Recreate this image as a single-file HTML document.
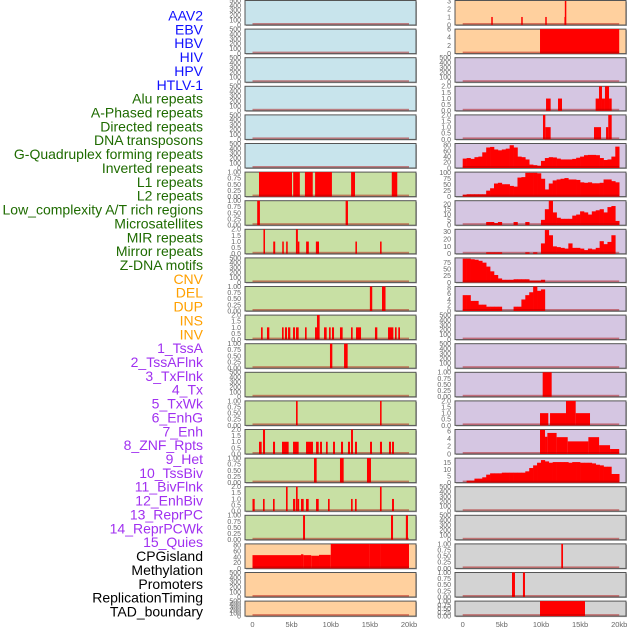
<!DOCTYPE html>
<html><head><meta charset="utf-8"><style>
html,body{margin:0;padding:0;background:#fff;width:630px;height:630px;overflow:hidden}
svg{display:block}
</style></head><body>
<svg id="chart" width="630" height="630" xmlns="http://www.w3.org/2000/svg" font-family="Liberation Sans, sans-serif"></svg>
<script>
// ---------- data ----------
const trackLabels = ["AAV2","EBV","HBV","HIV","HPV","HTLV-1","Alu repeats","A-Phased repeats","Directed repeats","DNA transposons","G-Quadruplex forming repeats","Inverted repeats","L1 repeats","L2 repeats","Low_complexity A/T rich regions","Microsatellites","MIR repeats","Mirror repeats","Z-DNA motifs","CNV","DEL","DUP","INS","INV","1_TssA","2_TssAFlnk","3_TxFlnk","4_Tx","5_TxWk","6_EnhG","7_Enh","8_ZNF_Rpts","9_Het","10_TssBiv","11_BivFlnk","12_EnhBiv","13_ReprPC","14_ReprPCWk","15_Quies","CPGisland","Methylation","Promoters","ReplicationTiming","TAD_boundary"];
const labelGroups = [6,13,5,15,5];
const groupColors = ["#1010ff","#1e6b00","#ffa000","#a030f0","#000000"];
const xTickValues = [0,5,10,15,20];
const xTickLabels = ["0","5kb","10kb","15kb","20kb"];

const ticks500 = [0,100,200,300,400,500];
const ticks01 = [0,0.25,0.5,0.75,1];
const ticks02 = [0,0.5,1,1.5,2];

// left column segments [startKb, endKb, value]
const L7 = [[0.83,5.05,1],[5.2,6.05,1],[6.7,7.7,1],[8.0,10.15,1],[12.6,13.1,1],[17.8,18.5,1]];
const L8 = [[0.6,0.95,1],[11.9,12.2,1]];
const L9 = [[1.4,1.6,2],[2.65,2.9,1],[3.8,4.0,1],[4.3,4.5,1],[5.55,5.8,2],[5.8,5.95,1],[6.85,7.2,1],[8.1,8.5,1],[13.15,13.35,1],[16.3,16.5,1]];
const L11 = [[15.0,15.3,1],[16.55,17.0,1]];
const L12 = [[1.09,1.3,1],[1.85,2.15,1],[3.77,3.98,1],[4.15,4.41,1],[4.54,4.83,1],[5.18,5.43,1],[5.56,5.9,1],[6.71,6.92,1],[7.99,8.24,1],[8.24,8.58,2],[9.14,9.48,1],[9.78,9.99,1],[10.16,10.42,1],[11.18,11.52,1],[12.59,12.8,1],[13.23,13.87,1],[15.65,15.95,1],[17.32,18.0,1],[18.21,18.42,1],[18.63,18.85,1]];
const L13 = [[9.9,10.2,1],[11.7,12.16,1]];
const L15 = [[5.56,5.77,1],[16.3,16.5,1]];
const L16 = [[0.83,1.17,1],[1.34,1.6,2],[2.62,2.88,1],[3.77,4.62,1],[5.18,5.9,1],[6.84,7.73,1],[8.12,8.46,1],[8.63,8.88,1],[9.39,9.61,1],[10.29,10.54,1],[11.31,11.57,1],[12.2,12.46,1],[12.59,12.84,2],[13.1,13.35,1],[15.02,15.27,1],[16.29,16.55,1],[17.44,17.7,1],[17.83,18.08,1]];
const L17 = [[7.86,8.2,1],[11.18,11.65,1],[14.63,15.14,1]];
const L18 = [[0,0.28,1],[1.34,1.55,1],[2.62,2.83,1],[4.28,4.49,2],[5.18,5.47,1],[5.56,5.77,2],[5.77,5.9,1],[6.2,6.54,1],[6.84,7.18,1],[8.12,8.46,1],[9.65,9.86,1],[12.59,12.8,1],[13.1,13.31,1],[16.29,16.5,2],[17.83,18.08,1]];
const L19 = [[6.46,6.71,1],[17.7,17.96,1],[19.6,19.87,1]];
const L20 = [[0,6.2,46],[6.2,6.5,49],[6.5,7.5,46],[7.5,8.5,44],[8.5,10,47],[10,15,86],[15,16.3,88],[16.3,20,86]];

// right column segments
const R1 = [[3.65,3.8,1],[7.48,7.62,1],[10.55,10.7,1],[13.0,13.05,1],[13.05,13.18,3]];
const R2 = [[9.88,20.0,6]];
const R4 = [[10.65,11.24,1],[12.18,12.69,1],[16.99,17.42,1],[17.42,17.8,2],[17.8,18.18,1],[18.18,18.7,2],[18.7,19.04,1]];
const R5 = [[10.26,10.56,2],[10.56,11.24,1],[16.78,17.68,1],[18.32,18.6,1],[18.6,19.04,2]];
const R14 = [[10.22,11.37,1]];
const R15 = [[9.88,10.94,1],[11.16,13.2,1],[13.2,14.44,2],[14.44,16.27,1]];
const R16 = [[9.88,10.52,6.3],[10.52,10.82,4.5],[10.82,12.0,5.5],[12.0,13.42,4.4],[13.42,16.06,3.3],[16.06,17.43,4.4],[17.43,18.83,2.3],[18.83,20.0,1.3]];
const R20 = [[12.6,12.82,1]];
const R21 = [[6.3,6.68,1],[7.7,7.96,1]];
const R22 = [[9.88,15.63,1]];

// right column binned profiles (0.5 kb bins, 0..20 kb)
const R6bins = [33,35,32,38,40,55,72,74,65,62,65,68,80,72,40,38,30,12,10,8,25,35,38,37,33,30,30,30,32,36,40,45,46,46,45,35,28,30,40,75];
const R7bins = [8,10,10,10,10,10,25,35,55,58,52,52,45,42,80,82,100,100,100,98,75,30,55,68,72,75,78,72,72,70,60,58,60,56,56,58,72,72,65,60];
const R8bins = [0,0,0,0,0,0,3,3,2,3,0,0,0,3,0,0,3,0,0,0,5,15,24,12,7,6,6,6,9,10,13,12,10,13,14,15,12,17,18,4];
const R9bins = [0,0,0,0,0,0,2,2,2,2,0,0,0,0,0,0,2,0,2,0,14,32,25,10,9,8,7,14,8,8,7,5,7,6,8,17,13,16,25,0];
const R10bins = [90,90,88,86,82,75,60,42,28,15,10,10,10,12,12,12,12,7,7,7,10,0,0,0,0,0,0,0,0,0,0,0,0,0,0,0,0,0,0,0];
const R11bins = [5.5,5.5,3.5,3.5,2.2,2.2,1.5,1.5,1.5,1.5,0,0,0,1.5,1.5,4,5.5,6.5,8.5,7,7.5,0,0,0,0,0,0,0,0,0,0,0,0,0,0,0,0,0,0,0];
const R17bins = [0,1.5,1.5,3,3,4,6,7,7,7,7.5,7.5,7.5,7.5,7.5,7.5,8.5,11,13,15,17,16,15,15.5,15.5,15.5,15.5,15,15.5,15.5,15,15,15,14.5,13.5,13,12,12,6.5,6.5];

// ---------- layout ----------
const BLUE="#c8e4ec", GREEN="#c8e0a4", PEACH="#ffd09e", LAV="#d5c6e2", GRAY="#d3d3d3";
const cols=[{x0:245,x1:416,d0:252.5},{x0:455,x1:626,d0:462.7}];
const kbPx = 7.825;
const rowTop = i => 0.5 + i*28.6;
const rowH = i => i===21 ? 15 : 24.5;

function f2(v){return v.toFixed(2);} function f1(v){return v.toFixed(1);} function f0(v){return String(v);}
const panels = [];
for(let i=0;i<6;i++) panels.push({c:0,r:i,bg:BLUE,max:500,ticks:ticks500,fmt:f0});
const leftGreen = [[L7,1,ticks01,f2],[L8,1,ticks01,f2],[L9,2,ticks02,f1],[null,500,ticks500,f0],[L11,1,ticks01,f2],[L12,2,ticks02,f1],[L13,1,ticks01,f2],[null,500,ticks500,f0],[L15,1,ticks01,f2],[L16,2,ticks02,f1],[L17,1,ticks01,f2],[L18,2,ticks02,f1],[L19,1,ticks01,f2]];
leftGreen.forEach((p,k)=>panels.push({c:0,r:6+k,bg:GREEN,segs:p[0],max:p[1],ticks:p[2],fmt:p[3]}));
panels.push({c:0,r:19,bg:PEACH,segs:L20,max:85,ticks:[0,20,40,60,80],fmt:f0});
panels.push({c:0,r:20,bg:PEACH,max:500,ticks:ticks500,fmt:f0});
panels.push({c:0,r:21,bg:PEACH,max:500,ticks:ticks500,fmt:f0});
const rightDefs = [
 [PEACH,R1,null,3.05,[0,1,2,3],f0],[PEACH,R2,null,6,[0,2,4,6],f0],[LAV,null,null,500,ticks500,f0],
 [LAV,R4,null,2,ticks02,f1],[LAV,R5,null,2,ticks02,f1],[LAV,null,R6bins,86,[0,20,40,60,80],f0],
 [LAV,null,R7bins,103,[0,25,50,75,100],f0],[LAV,null,R8bins,23,[0,5,10,15,20],f0],[LAV,null,R9bins,33,[0,10,20,30],f0],
 [LAV,null,R10bins,93,[0,25,50,75],f0],[LAV,null,R11bins,8.5,[0,2,4,6,8],f0],[LAV,null,null,500,ticks500,f0],
 [LAV,null,null,500,ticks500,f0],[LAV,R14,null,1,ticks01,f2],[LAV,R15,null,2,ticks02,f1],
 [LAV,R16,null,6.4,[0,2,4,6],f0],[LAV,null,R17bins,18.5,[0,5,10,15],f0],[GRAY,null,null,500,ticks500,f0],
 [GRAY,null,null,500,ticks500,f0],[GRAY,R20,null,1,ticks01,f2],[GRAY,R21,null,1,ticks01,f2],[GRAY,R22,null,1,ticks01,f2]];
rightDefs.forEach((p,k)=>panels.push({c:1,r:k,bg:p[0],segs:p[1],bins:p[2],max:p[3],ticks:p[4],fmt:p[5]}));

// ---------- render ----------
const NS="http://www.w3.org/2000/svg";
const svg=document.getElementById('chart');
function mk(tag,attrs,parent){const e=document.createElementNS(NS,tag);for(const k in attrs)e.setAttribute(k,attrs[k]);(parent||svg).appendChild(e);return e;}

// labels
let li=0;
labelGroups.forEach((n,g)=>{for(let j=0;j<n;j++){
  const t=mk('text',{x:203,y:(20.5+li*13.86).toFixed(1),'text-anchor':'end','font-size':'14',fill:groupColors[g]});
  t.textContent=trackLabels[li];
  
  
  li++;}});

panels.forEach(p=>{
  const col=cols[p.c], top=rowTop(p.r), H=rowH(p.r);
  const xs=kb=>col.d0+kb*kbPx;
  const ys=v=>top+H-Math.min(v,p.max)/p.max*H;
  const g=mk('g',{});
  
  
  mk('rect',{x:col.x0+1,y:top+1,width:col.x1-col.x0,height:H,fill:'#aaa'},g);
  mk('rect',{x:col.x0,y:top,width:col.x1-col.x0,height:H,fill:p.bg,stroke:'#555','stroke-width':1},g);
  if(p.bins){
    p.bins.forEach((v,i)=>{ if(v<=0) return;
      const r=mk('rect',{x:xs(i*0.5).toFixed(2),y:ys(v).toFixed(2),width:(kbPx*0.5+0.3).toFixed(2),height:(top+H-ys(v)).toFixed(2),fill:'#ff0000'},g);
      
      
    });
  }
  if(p.segs){
    p.segs.forEach(s=>{
      const w=Math.max(1.5,xs(s[1])-xs(s[0]));
      const r=mk('rect',{x:xs(s[0]).toFixed(2),y:ys(s[2]).toFixed(2),width:w.toFixed(2),height:(top+H-ys(s[2])).toFixed(2),fill:'#ff0000'},g);
      
      
    });
  }
  mk('rect',{x:xs(0),y:top+H-2,width:xs(20)-xs(0),height:1.6,fill:'rgba(170,0,0,0.45)'},g);
  p.ticks.forEach(v=>{
    const t=mk('text',{x:col.x0-4,y:(ys(v)+2.4).toFixed(2),'text-anchor':'end','font-size':'7',fill:'#666'},g);
    t.textContent=p.fmt(v);
  });
});

// x axes
cols.forEach(col=>{
  xTickValues.forEach((v,i)=>{
    const t=mk('text',{x:(col.d0+v*kbPx).toFixed(1),y:627,'text-anchor':'middle','font-size':'7.5',fill:'#666'});
    t.textContent=xTickLabels[i];
    
    
  });
});
</script>
</body></html>
